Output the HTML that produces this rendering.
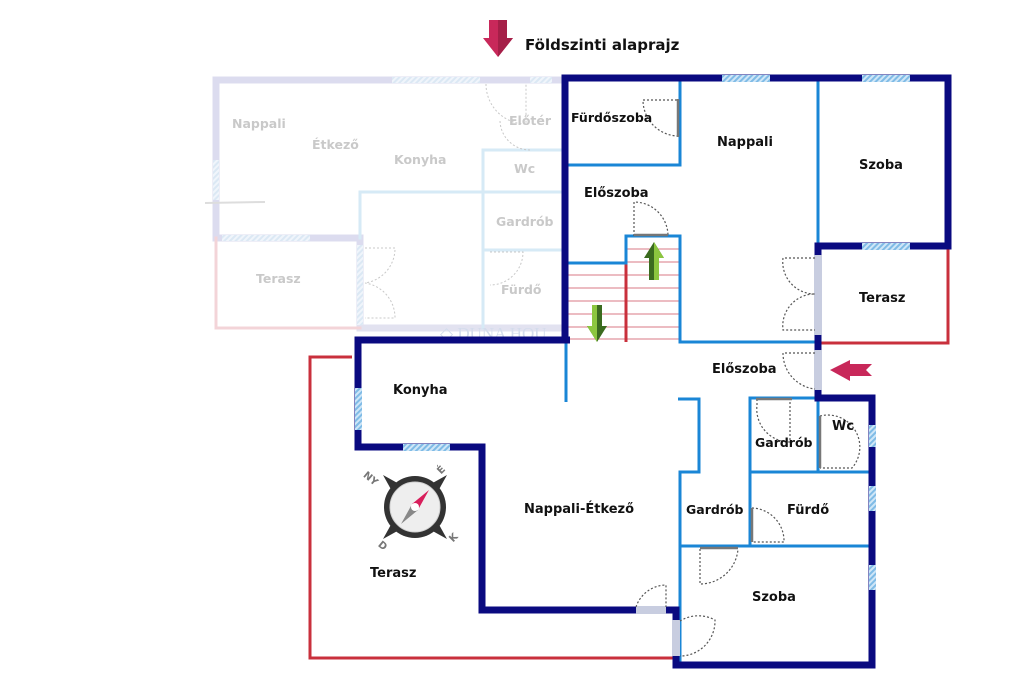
<!DOCTYPE html>
<html><head><meta charset="utf-8"><style>
html,body{margin:0;padding:0;background:#fff;}
svg{display:block;}
text{font-family:"DejaVu Sans","Liberation Sans",sans-serif;font-weight:bold;}
</style></head><body>
<svg width="1024" height="682" viewBox="0 0 1024 682" xmlns="http://www.w3.org/2000/svg">
<defs>
<pattern id="hb" width="4" height="4" patternUnits="userSpaceOnUse" patternTransform="rotate(45)">
<rect width="4" height="4" fill="#cfe6f7"/><rect width="2" height="4" fill="#7fbbe6"/></pattern>
<pattern id="hf" width="4" height="4" patternUnits="userSpaceOnUse" patternTransform="rotate(45)">
<rect width="4" height="4" fill="#f0f5fb"/><rect width="2" height="4" fill="#dbe8f4"/></pattern>
</defs>

<!-- Title -->
<polygon points="489,20 507,20 507,38 513,38 498,57 483,38 489,38" fill="#c8285a"/>
<polygon points="498,20 507,20 507,38 513,38 498,57" fill="#a51f48"/>
<text x="525" y="50" font-size="15" fill="#111">Földszinti alaprajz</text>

<!-- Faded left building -->
<g fill="none" stroke-linecap="square">
<polyline points="216,238 216,80 560,80" stroke="#dcdcef" stroke-width="7"/>
<polyline points="216,238 360,238 360,328" stroke="#dcdcef" stroke-width="7"/>
<line x1="360" y1="328" x2="560" y2="328" stroke="#e2e2f0" stroke-width="7"/>
<polyline points="216,238 216,328 360,328" stroke="#f3d4d8" stroke-width="3"/>
<polyline points="560,192 360,192 360,238" stroke="#d6eaf6" stroke-width="3"/>
<polyline points="560,150 483,150 483,328" stroke="#d6eaf6" stroke-width="3"/>
<line x1="483" y1="250" x2="560" y2="250" stroke="#d6eaf6" stroke-width="3"/>
</g>
<rect x="392" y="77" width="88" height="6" fill="url(#hf)"/>
<rect x="530" y="77" width="22" height="6" fill="url(#hf)"/>
<rect x="213" y="160" width="6" height="40" fill="url(#hf)"/>
<rect x="222" y="235" width="88" height="6" fill="url(#hf)"/>
<rect x="357" y="245" width="6" height="80" fill="url(#hf)"/>
<line x1="205" y1="203" x2="265" y2="202" stroke="#ddd" stroke-width="2"/>
<g fill="none" stroke="#c8c8c8" stroke-width="1" stroke-dasharray="2,2">
<path d="M486,84 A40,40 0 0 0 526,124 L526,84"/>
<path d="M530,150 A30,30 0 0 1 500,120"/>
<path d="M365,248 L395,248 A35,35 0 0 1 365,283 A35,35 0 0 1 395,318 L365,318"/>
<path d="M490,252 L523,252 A33,33 0 0 1 490,285"/>
</g>
<g fill="#c9c9c9" font-size="12.5">
<text x="232" y="128">Nappali</text>
<text x="312" y="149">Étkező</text>
<text x="394" y="164">Konyha</text>
<text x="509" y="125">Előtér</text>
<text x="514" y="173">Wc</text>
<text x="496" y="226">Gardrób</text>
<text x="501" y="294">Fürdő</text>
<text x="256" y="283">Terasz</text>
</g>
<text x="440" y="339" font-size="17" fill="#d4dcec" style="font-family:'Liberation Serif',serif;font-weight:normal">◇ DUNA HOU</text>

<!-- Red terraces -->
<g fill="none" stroke="#c9303c" stroke-width="3">
<polyline points="818,343 948,343 948,246"/>
<polyline points="352,357 310,357 310,658 676,658"/>
</g>

<!-- Stairs -->
<g stroke="#d97a86" stroke-width="1">
<line x1="567" y1="275" x2="680" y2="275"/><line x1="567" y1="288" x2="680" y2="288"/>
<line x1="567" y1="301" x2="680" y2="301"/><line x1="567" y1="314" x2="680" y2="314"/>
<line x1="567" y1="327" x2="680" y2="327"/><line x1="567" y1="339" x2="680" y2="339"/>
<line x1="626" y1="249" x2="680" y2="249"/><line x1="626" y1="262" x2="680" y2="262"/>
</g>
<line x1="626" y1="262" x2="626" y2="342" stroke="#c9303c" stroke-width="3"/>
<polygon points="654,242 664,258 659,258 659,280 649,280 649,258 644,258" fill="#3b6b1f"/>
<polygon points="654,242 664,258 659,258 659,280 654,280" fill="#8cc63f"/>
<polygon points="597,342 607,326 602,326 602,305 592,305 592,326 587,326" fill="#3b6b1f"/>
<polygon points="597,342 587,326 592,326 592,305 597,305" fill="#8cc63f"/>

<!-- Blue inner walls -->
<g fill="none" stroke="#1a86d6" stroke-width="3">
<polyline points="565,165 680,165 680,80"/>
<line x1="818" y1="80" x2="818" y2="246"/>
<polyline points="565,263 626,263 626,236 680,236 680,342 818,342"/>
<line x1="566" y1="342" x2="566" y2="402"/>
<polyline points="678,399 699,399 699,472 680,472 680,665"/>
<line x1="680" y1="546" x2="872" y2="546"/>
<polyline points="750,546 750,398 818,398"/>
<line x1="750" y1="472" x2="872" y2="472"/>
<line x1="818" y1="398" x2="818" y2="472"/>
</g>

<!-- Navy walls -->
<g fill="none" stroke="#0a0a80" stroke-width="7" stroke-linejoin="miter">
<polyline points="565,342 565,78 948,78 948,246 818,246 818,398 872,398 872,665 676,665 676,610 482,610 482,447 358,447 358,340 570,340"/>
</g>
<!-- Windows -->
<rect x="722" y="75" width="48" height="7" fill="url(#hb)"/>
<rect x="862" y="75" width="48" height="7" fill="url(#hb)"/>
<rect x="862" y="243" width="48" height="7" fill="url(#hb)"/>
<rect x="355" y="388" width="7" height="42" fill="url(#hb)"/>
<rect x="403" y="444" width="47" height="7" fill="url(#hb)"/>
<rect x="869" y="425" width="7" height="22" fill="url(#hb)"/>
<rect x="869" y="486" width="7" height="25" fill="url(#hb)"/>
<rect x="869" y="565" width="7" height="25" fill="url(#hb)"/>
<!-- door gaps -->
<rect x="814" y="255" width="8" height="80" fill="#c8cde0"/>
<rect x="814" y="350" width="8" height="40" fill="#c8cde0"/>
<rect x="636" y="606" width="30" height="8" fill="#c8cde0"/>
<rect x="672" y="620" width="8" height="36" fill="#c8cde0"/>

<!-- Doors -->
<g fill="none" stroke="#555" stroke-width="1.2" stroke-dasharray="2,2">
<path d="M677,100 L643,100 A36,36 0 0 0 677,136"/>
<path d="M634,236 L634,202 A34,34 0 0 1 668,236"/>
<path d="M815,258 L783,258 A32,32 0 0 0 815,294 A32,32 0 0 0 783,330 L815,330"/>
<path d="M815,353 L783,353 A36,36 0 0 0 815,389"/>
<path d="M757,399 L757,405 A33,33 0 0 0 790,442 L790,399"/>
<path d="M820,416 A32,32 0 0 1 852,468 L820,468"/>
<path d="M752,508 A33,33 0 0 1 784,542 L752,542"/>
<path d="M700,549 L700,584 A38,38 0 0 0 738,549"/>
<path d="M636,607 A32,32 0 0 1 666,585 L666,607"/>
<path d="M680,621 A35,35 0 0 1 715,620 A35,35 0 0 1 680,656"/>
</g>
<g stroke="#777" stroke-width="2.5">
<line x1="678" y1="99" x2="678" y2="137"/>
<line x1="634" y1="235" x2="668" y2="235"/>
<line x1="756" y1="399" x2="792" y2="399"/>
<line x1="820" y1="416" x2="820" y2="468"/>
<line x1="752" y1="508" x2="752" y2="542"/>
<line x1="700" y1="548" x2="738" y2="548"/>
</g>

<!-- Entrance arrow -->
<polygon points="830,370 850,360 850,364 872,364 866,370 872,376 850,376 850,381" fill="#c8285a"/>

<!-- Compass -->
<g transform="translate(415,507)">
<polygon points="-32,-32 -14,-22 -22,-14" fill="#333"/>
<polygon points="32,-32 22,-14 14,-22" fill="#333"/>
<polygon points="32,32 14,22 22,14" fill="#333"/>
<polygon points="-32,32 -22,14 -14,22" fill="#333"/>
<circle r="31" fill="#333"/>
<circle r="25" fill="#eee" stroke="#d0d0d0" stroke-width="1"/>
<polygon points="14,-17 4,1 -3,-3" fill="#d81e5b"/>
<polygon points="-14,17 -4,-1 3,3" fill="#888"/>
<circle r="4" fill="#fff"/>
<g fill="#777" font-size="10">
<text x="-52" y="-28" transform="rotate(40,-48,-30)">NY</text>
<text x="22" y="-34" transform="rotate(-45,26,-38)">É</text>
<text x="34" y="34" transform="rotate(-45,38,30)">K</text>
<text x="-36" y="42" transform="rotate(40,-32,38)">D</text>
</g>
</g>

<!-- Labels -->
<g fill="#111" font-size="13">
<text x="571" y="122" font-size="12.5">Fürdőszoba</text>
<text x="717" y="146">Nappali</text>
<text x="859" y="169">Szoba</text>
<text x="584" y="197">Előszoba</text>
<text x="859" y="302">Terasz</text>
<text x="712" y="373">Előszoba</text>
<text x="393" y="394">Konyha</text>
<text x="832" y="430">Wc</text>
<text x="755" y="447" font-size="12.5">Gardrób</text>
<text x="524" y="513">Nappali-Étkező</text>
<text x="686" y="514" font-size="12.5">Gardrób</text>
<text x="787" y="514">Fürdő</text>
<text x="370" y="577">Terasz</text>
<text x="752" y="601">Szoba</text>
</g>
</svg>
</body></html>
